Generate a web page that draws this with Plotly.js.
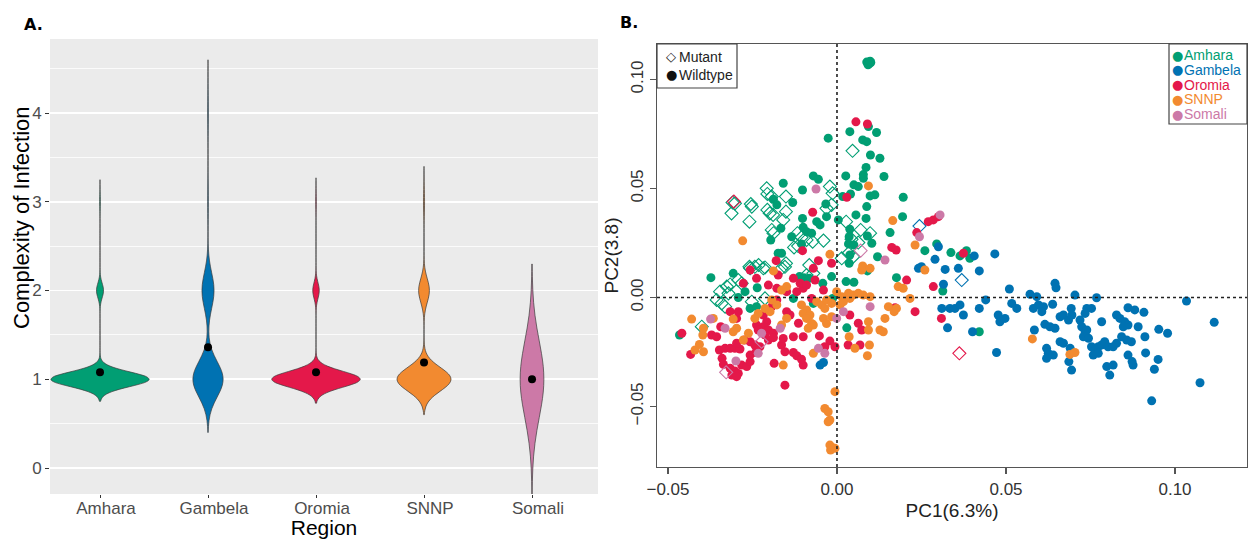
<!DOCTYPE html>
<html><head><meta charset="utf-8">
<script src="https://cdn.plot.ly/plotly-3.0.1.min.js"></script>
<style>html,body{margin:0;padding:0;background:#fff;} #chart{width:1249px;height:539px;}</style>
</head><body><div id="chart"></div>
<script>
// ================= DATA =================
// Panel A: complexity of infection (COI) by region
const regions = ["Amhara", "Gambela", "Oromia", "SNNP", "Somali"];
const coiLevels = [1, 2, 3, 4];
const coiCountsAmhara  = [140, 10, 1, 0];
const coiCountsGambela = [45, 18, 1, 1];
const coiCountsOromia  = [150, 11, 1, 0];
const coiCountsSNNP    = [100, 20, 2, 0];
const coiCountsSomali  = [37, 0, 0, 0];
const coiMeans = [1.08, 1.36, 1.08, 1.19, 1.00];

// Panel B: PCA coordinates (PC1, PC2)
const amharaWtX = [0.0088,0.0095,0.0100,0.0092,0.0098,0.0038,0.0093,0.0117,-0.0026,0.0076,
0.0088,0.0099,0.0127,0.0086,0.0139,0.0026,0.0078,0.0078,0.0050,0.0063,
-0.0070,-0.0055,-0.0159,-0.0102,0.0040,0.0098,0.0112,0.0196,0.0017,-0.0188,
-0.0131,-0.0033,0.0088,-0.0178,-0.0102,-0.0031,0.0004,0.0056,0.0086,0.0194,
-0.0060,-0.0050,-0.0100,-0.0090,-0.0166,-0.0075,0.0038,0.0036,0.0090,0.0157,
-0.0134,-0.0196,-0.0105,0.0034,0.0050,0.0103,-0.0174,-0.0164,0.0038,0.0120,
0.0036,0.0260,0.0295,-0.0373,-0.0307,-0.0272,-0.0236,-0.0292,-0.0257,-0.0238,
-0.0129,-0.0111,-0.0098,-0.0082,-0.0016,-0.0042,0.0027,0.0050,0.0090,-0.0013,
0.0029,0.0176,0.0313,-0.0466,-0.0070,0.0337,0.0364,0.0383,0.0393,0.0421];
const amharaWtY = [0.1080,0.1072,0.1078,0.1068,0.1084,0.0761,0.0784,0.0757,0.0731,0.0723,
0.0715,0.0654,0.0639,0.0597,0.0555,0.0558,0.0564,0.0547,0.0517,0.0509,
0.0558,0.0542,0.0524,0.0493,0.0475,0.0466,0.0471,0.0460,0.0463,0.0451,
0.0436,0.0429,0.0417,0.0425,0.0363,0.0371,0.0356,0.0379,0.0363,0.0371,
0.0348,0.0333,0.0322,0.0302,0.0318,0.0295,0.0313,0.0279,0.0282,0.0298,
0.0279,0.0264,0.0246,0.0246,0.0241,0.0249,0.0203,0.0203,0.0195,0.0187,
0.0157,0.0215,0.0246,0.0091,0.0111,0.0027,0.0045,0.0000,-0.0050,-0.0042,
-0.0004,0.0096,0.0091,0.0088,0.0096,0.0065,0.0073,0.0070,0.0122,-0.0004,
-0.0139,0.0091,0.0030,-0.0172,-0.0027,0.0206,0.0191,0.0215,0.0180,-0.0157];

const amharaMutX = [0.0046,-0.0208,-0.0206,-0.0193,-0.0151,-0.0309,-0.0302,-0.0312,-0.0255,-0.0252,
-0.0206,-0.0199,-0.0189,-0.0151,-0.0159,-0.0259,-0.0021,-0.0013,-0.0016,-0.0031,
0.0027,-0.0193,-0.0188,-0.0117,-0.0105,-0.0090,-0.0072,-0.0040,-0.0127,-0.0115,
0.0070,0.0098,0.0043,0.0063,0.0034,0.0048,0.0014,-0.0259,-0.0232,-0.0213,
-0.0151,-0.0082,-0.0356,-0.0341,-0.0331,-0.0326,-0.0316,-0.0321,-0.0292,-0.0282,
-0.0346,-0.0400,-0.0257,-0.0243,-0.0218,-0.0164,-0.0154,-0.0213,-0.0090,-0.0070,
-0.0252];
const amharaMutY = [0.0673,0.0501,0.0475,0.0463,0.0463,0.0436,0.0432,0.0386,0.0429,0.0417,
0.0402,0.0386,0.0379,0.0394,0.0356,0.0348,0.0509,0.0478,0.0425,0.0409,
0.0348,0.0310,0.0295,0.0295,0.0276,0.0264,0.0256,0.0261,0.0230,0.0236,
0.0310,0.0295,0.0267,0.0252,0.0203,0.0187,0.0180,0.0141,0.0149,0.0138,
0.0157,0.0149,-0.0011,-0.0027,-0.0042,0.0050,0.0060,0.0019,0.0080,0.0065,
0.0027,-0.0134,0.0134,0.0141,0.0134,0.0134,0.0141,-0.0004,0.0103,0.0111,
-0.0019];

const gambelaWtX = [0.0300,0.0290,0.0250,0.0320,-0.0050,-0.0040,0.0241,0.0315,0.0310,0.0327,
0.0359,0.0421,0.0334,0.0349,0.0364,0.0374,0.0401,0.0421,0.0440,0.0472,
0.0477,0.0482,0.0497,0.0510,0.0517,0.0532,0.0571,0.0591,0.0581,0.0596,
0.0611,0.0606,0.0584,0.0645,0.0648,0.0638,0.0615,0.0630,0.0645,0.0660,
0.0670,0.0660,0.0670,0.0620,0.0625,0.0620,0.0640,0.0690,0.0686,0.0694,
0.0685,0.0693,0.0695,0.0704,0.0719,0.0724,0.0734,0.0729,0.0744,0.0739,
0.0739,0.0753,0.0734,0.0768,0.0753,0.0763,0.0773,0.0783,0.0758,0.0773,
0.0792,0.0802,0.0817,0.0827,0.0798,0.0807,0.0817,0.0783,0.0827,0.0837,
0.0851,0.0861,0.0847,0.0861,0.0881,0.0908,0.0891,0.0842,0.0857,0.0871,
0.0861,0.0873,0.0876,0.0911,0.0913,0.0939,0.0950,0.0952,0.0978,0.0931,
0.1034,0.1074,0.1116,0.0467,0.0406];
const gambelaWtY = [0.0233,0.0175,0.0141,0.0129,-0.0310,-0.0298,0.0134,0.0061,-0.0050,-0.0139,
0.0134,0.0122,-0.0050,-0.0050,-0.0034,-0.0080,-0.0157,-0.0050,-0.0011,-0.0252,
-0.0080,-0.0111,-0.0096,0.0039,-0.0027,-0.0050,0.0015,0.0004,-0.0050,-0.0034,
-0.0042,-0.0065,-0.0149,0.0065,0.0045,-0.0031,-0.0123,-0.0134,-0.0141,-0.0088,
-0.0080,-0.0203,-0.0210,-0.0233,-0.0256,-0.0279,-0.0264,-0.0233,-0.0294,-0.0333,
-0.0103,-0.0050,-0.0080,0.0011,-0.0103,-0.0134,-0.0157,-0.0180,-0.0187,-0.0149,
-0.0050,-0.0050,-0.0073,-0.0001,-0.0226,-0.0241,-0.0226,-0.0218,-0.0264,-0.0256,
-0.0203,-0.0226,-0.0226,-0.0210,-0.0317,-0.0356,-0.0310,-0.0111,-0.0080,-0.0096,
-0.0111,-0.0126,-0.0134,-0.0047,-0.0057,-0.0068,-0.0134,-0.0180,-0.0195,-0.0203,
-0.0264,-0.0294,-0.0310,-0.0180,-0.0254,-0.0329,-0.0284,-0.0146,-0.0164,-0.0474,
-0.0016,-0.0391,-0.0114,0.0200,0.0191];
const gambelaMutX = [0.0244, 0.0369];
const gambelaMutY = [0.0328, 0.0080];

const oromiaWtX = [0.0056,0.0090,0.0029,-0.0072,-0.0102,0.0162,0.0175,-0.0180,-0.0055,-0.0016,
0.0270,0.0285,0.0300,0.0236,
-0.0459,-0.0433,-0.0371,-0.0356,-0.0344,-0.0348,-0.0331,-0.0316,-0.0302,-0.0287,
-0.0297,-0.0274,-0.0257,-0.0340,-0.0336,-0.0316,-0.0302,-0.0292,-0.0311,-0.0297,
-0.0282,-0.0267,-0.0257,-0.0257,-0.0240,-0.0243,-0.0228,-0.0218,-0.0208,-0.0218,
-0.0203,-0.0188,-0.0213,-0.0203,-0.0188,-0.0238,-0.0233,-0.0297,-0.0292,-0.0316,
-0.0186,-0.0164,-0.0154,-0.0159,-0.0154,-0.0129,-0.0119,-0.0100,-0.0105,-0.0129,
-0.0100,-0.0114,-0.0052,-0.0021,-0.0006,-0.0036,-0.0149,-0.0139,-0.0203,-0.0178,
-0.0149,-0.0119,-0.0100,-0.0129,-0.0109,-0.0090,-0.0065,-0.0040,-0.0075,-0.0277,
-0.0238,-0.0178,-0.0193,-0.0257,-0.0174,-0.0070,0.0063,0.0073,0.0068,0.0038,
0.0172,0.0206,0.0231,0.0285,0.0309,0.0033,0.0374];
const oromiaWtY = [0.0806,0.0796,0.0460,0.0391,0.0215,0.0230,0.0218,0.0169,0.0169,0.0157,
0.0348,0.0356,0.0371,0.0298,
-0.0164,-0.0261,-0.0172,-0.0180,-0.0134,-0.0241,-0.0233,-0.0233,-0.0233,-0.0236,
-0.0210,-0.0195,-0.0203,-0.0279,-0.0307,-0.0325,-0.0337,-0.0348,-0.0356,-0.0363,
-0.0310,-0.0317,-0.0294,-0.0264,-0.0252,-0.0218,-0.0226,-0.0080,-0.0111,-0.0134,
-0.0149,-0.0164,-0.0172,-0.0195,-0.0184,-0.0126,-0.0149,-0.0096,-0.0065,-0.0065,
-0.0302,-0.0218,-0.0249,-0.0188,-0.0402,-0.0252,-0.0267,-0.0310,-0.0283,-0.0180,
-0.0180,-0.0118,-0.0176,-0.0200,-0.0226,-0.0226,-0.0065,-0.0080,0.0057,0.0042,
0.0027,0.0027,0.0042,0.0088,0.0065,0.0057,0.0080,0.0034,-0.0004,0.0065,
0.0088,-0.0011,-0.0042,0.0126,0.0103,0.0134,-0.0118,-0.0149,-0.0218,-0.0080,
-0.0047,0.0080,-0.0065,0.0050,-0.0096,-0.0218,0.0203];
const oromiaMutX = [-0.0305, 0.0362];
const oromiaMutY = [0.0440, -0.0256];

const snnpWtX = [0.0093,0.0165,-0.0279,-0.0021,0.0231,0.0076,
-0.0430,-0.0420,-0.0407,-0.0397,-0.0395,-0.0395,-0.0366,-0.0307,-0.0297,-0.0262,
-0.0243,-0.0233,-0.0277,-0.0213,-0.0198,-0.0164,-0.0149,-0.0164,-0.0149,-0.0188,
-0.0105,-0.0090,-0.0100,-0.0080,-0.0090,-0.0075,-0.0085,-0.0070,-0.0060,-0.0045,
-0.0031,-0.0036,-0.0016,-0.0040,-0.0016,-0.0031,0.0009,0.0019,0.0038,0.0048,
0.0063,0.0078,0.0098,0.0034,0.0014,-0.0001,0.0036,0.0093,0.0093,0.0053,
0.0096,0.0090,0.0142,0.0152,0.0127,0.0137,0.0169,0.0176,0.0181,0.0196,
0.0216,0.0260,0.0098,0.0073,-0.0159,-0.0070,-0.0006,-0.0036,-0.0026,-0.0021,
-0.0026,-0.0021,-0.0013,-0.0019,-0.0006,-0.0193,-0.0178,-0.0307,0.0578,0.0689,
0.0704];
const snnpWtY = [0.0512,0.0353,0.0260,0.0198,0.0241,0.0145,
-0.0099,-0.0241,-0.0215,-0.0172,-0.0141,-0.0249,-0.0096,-0.0099,-0.0141,-0.0164,
-0.0096,-0.0073,-0.0195,-0.0050,-0.0065,-0.0126,-0.0096,0.0034,0.0050,0.0122,
-0.0034,-0.0057,-0.0073,-0.0080,-0.0096,-0.0119,-0.0141,-0.0126,-0.0019,-0.0034,
-0.0011,-0.0050,-0.0027,-0.0096,-0.0088,-0.0119,-0.0034,-0.0019,-0.0004,0.0011,
0.0019,0.0011,0.0004,0.0019,0.0004,0.0027,-0.0180,-0.0111,-0.0149,-0.0233,
-0.0218,-0.0267,-0.0096,-0.0042,-0.0149,-0.0157,-0.0065,-0.0050,0.0050,0.0042,
-0.0004,0.0126,0.0134,0.0126,-0.0310,-0.0256,-0.0432,-0.0509,-0.0524,-0.0562,
-0.0570,-0.0677,-0.0689,-0.0700,-0.0692,-0.0011,-0.0034,-0.0157,-0.0190,-0.0261,
-0.0252];

const somaliWtX = [-0.0062,0.0142,0.0244,0.0305,-0.0374,-0.0331,-0.0299,-0.0168,-0.0233,-0.0223,
-0.0055,-0.0036,0.0019,0.0098,-0.0001];
const somaliWtY = [0.0498,0.0172,0.0279,0.0379,-0.0099,-0.0141,-0.0291,-0.0141,-0.0256,-0.0164,
-0.0233,-0.0256,-0.0065,-0.0042,-0.0096];
const somaliMutX = [0.0070, -0.0328, -0.0223];
const somaliMutY = [0.0215, -0.0343, -0.0203];

const genotypeLabels = ["Mutant", "Wildtype"];

// ================= STYLE =================
const regionColors = ["#019E73", "#0072B2", "#E4184A", "#F28A30", "#CC79A7"];
const FONT = "Liberation Sans, Arial, Helvetica, sans-serif";
const W = 1249, H = 539;
const fx = p => p / W;          // pixel -> paper x
const fy = p => 1 - p / H;      // pixel -> paper y

// ================= PANEL A: violins =================
const coiCounts = [coiCountsAmhara, coiCountsGambela, coiCountsOromia, coiCountsSNNP, coiCountsSomali];
const bandwidths = [0.083, 0.2, 0.09, 0.133, 0.433];
const violinWidths = [0.91, 0.28, 0.82, 0.5, 0.22];
function expand(counts) {
  const out = [];
  counts.forEach((c, i) => { for (let k = 0; k < c; k++) out.push(coiLevels[i]); });
  return out;
}
const traces = [];
regions.forEach((r, i) => {
  const s = expand(coiCounts[i]);
  const lo = Math.min(...s) - 3 * bandwidths[i];
  const hi = Math.max(...s) + 3 * bandwidths[i];
  traces.push({
    type: "violin", x0: r, y: s, name: r, xaxis: "x", yaxis: "y",
    fillcolor: regionColors[i], line: { color: "#3a3a3a", width: 0.7 }, opacity: 1,
    points: false, box: { visible: false }, meanline: { visible: false },
    bandwidth: bandwidths[i], spanmode: "manual", span: [lo, hi],
    scalemode: "width", width: violinWidths[i], side: "both",
    showlegend: false, hoverinfo: "skip"
  });
});
traces.push({
  type: "scatter", mode: "markers", x: regions, y: coiMeans, xaxis: "x", yaxis: "y",
  marker: { color: "#000", size: 8 }, showlegend: false, hoverinfo: "skip"
});

// ================= PANEL B: PCA scatter =================
const pcSeries = [
  { region: 0, mutant: true,  x: amharaMutX,  y: amharaMutY },
  { region: 0, mutant: false, x: amharaWtX,   y: amharaWtY },
  { region: 1, mutant: false, x: gambelaWtX,  y: gambelaWtY },
  { region: 1, mutant: true,  x: gambelaMutX, y: gambelaMutY },
  { region: 2, mutant: false, x: oromiaWtX,   y: oromiaWtY },
  { region: 2, mutant: true,  x: oromiaMutX,  y: oromiaMutY },
  { region: 3, mutant: false, x: snnpWtX,     y: snnpWtY },
  { region: 4, mutant: false, x: somaliWtX,   y: somaliWtY },
  { region: 4, mutant: true,  x: somaliMutX,  y: somaliMutY }
];
pcSeries.forEach(s => {
  const c = regionColors[s.region];
  traces.push({
    type: "scatter", mode: "markers", x: s.x, y: s.y, xaxis: "x2", yaxis: "y2",
    name: regions[s.region] + " " + (s.mutant ? genotypeLabels[0] : genotypeLabels[1]),
    marker: s.mutant
      ? { symbol: "diamond-open", size: 10, color: c, line: { color: c, width: 1.1 } }
      : { symbol: "circle", size: 9, color: c, line: { width: 0 } },
    showlegend: false, hoverinfo: "skip"
  });
});

// ================= LAYOUT =================
const tickGray = "#4D4D4D";
const shapes = [
  // Panel A grey panel background
  { type: "rect", xref: "x domain", yref: "y domain", x0: 0, x1: 1, y0: 0, y1: 1,
    fillcolor: "#EBEBEB", line: { width: 0 }, layer: "below" },
  // Panel B reference lines
  { type: "line", xref: "x2", yref: "y2 domain", x0: 0, x1: 0, y0: 0, y1: 1,
    line: { color: "#222", width: 1.6, dash: "3px,3px" }, layer: "above" },
  { type: "line", xref: "x2 domain", yref: "y2", x0: 0, x1: 1, y0: 0, y1: 0,
    line: { color: "#222", width: 1.6, dash: "3px,3px" }, layer: "above" },
  // Legend boxes
  { type: "rect", xref: "paper", yref: "paper", x0: fx(657), x1: fx(737), y0: fy(88), y1: fy(44),
    fillcolor: "#fff", line: { color: "#444", width: 1.2 }, layer: "above" },
  { type: "rect", xref: "paper", yref: "paper", x0: fx(1169), x1: fx(1247), y0: fy(124), y1: fy(44),
    fillcolor: "#fff", line: { color: "#444", width: 1.2 }, layer: "above" }
];

const annotations = [
  { text: "<b>A.</b>", x: fx(22), y: fy(24), xref: "paper", yref: "paper", xanchor: "left", yanchor: "middle",
    showarrow: false, font: { family: "DejaVu Sans, sans-serif", size: 16, color: "#000" } },
  { text: "<b>B.</b>", x: fx(618), y: fy(22), xref: "paper", yref: "paper", xanchor: "left", yanchor: "middle",
    showarrow: false, font: { family: "DejaVu Sans, sans-serif", size: 16, color: "#000" } },
  { text: "Complexity of Infection", x: fx(22), y: fy(218), xref: "paper", yref: "paper",
    xanchor: "center", yanchor: "middle", textangle: -90, showarrow: false,
    font: { family: FONT, size: 22, color: "#000" } }
];
// genotype legend (top-left)
const genoSymbols = ["\u25C7", "\u25CF"];
genotypeLabels.forEach((g, i) => {
  const yy = 57 + i * 18;
  annotations.push({ text: genoSymbols[i], x: fx(671), y: fy(yy), xref: "paper", yref: "paper",
    xanchor: "center", yanchor: "middle", showarrow: false,
    font: { family: "DejaVu Sans, sans-serif", size: 13, color: "#111" } });
  annotations.push({ text: g, x: fx(677), y: fy(yy), xref: "paper", yref: "paper",
    xanchor: "left", yanchor: "middle", showarrow: false,
    font: { family: FONT, size: 14, color: "#222" } });
});
// region legend (top-right)
regions.forEach((r, i) => {
  const yy = 55 + i * 14.8;
  annotations.push({ text: "\u25CF", x: fx(1177), y: fy(yy), xref: "paper", yref: "paper",
    xanchor: "center", yanchor: "middle", showarrow: false,
    font: { family: "DejaVu Sans, sans-serif", size: 13, color: regionColors[i] } });
  annotations.push({ text: r, x: fx(1182), y: fy(yy), xref: "paper", yref: "paper",
    xanchor: "left", yanchor: "middle", showarrow: false,
    font: { family: FONT, size: 14, color: regionColors[i] } });
});

const layout = {
  width: W, height: H,
  margin: { l: 0, r: 0, t: 0, b: 0, pad: 0 },
  paper_bgcolor: "#fff", plot_bgcolor: "rgba(0,0,0,0)",
  font: { family: FONT, color: "#222" },
  showlegend: false,
  violinmode: "overlay",
  xaxis: {
    domain: [fx(50), fx(598)], anchor: "y", type: "category",
    categoryorder: "array", categoryarray: regions, range: [-0.463, 4.611],
    showgrid: false, zeroline: false, showline: false,
    ticks: "outside", ticklen: 3, tickwidth: 1, tickcolor: "#333",
    ticklabelshift: 6, ticklabelstandoff: -4,
    tickfont: { family: FONT, size: 17, color: tickGray },
    title: { text: "Region", font: { family: FONT, size: 21, color: "#000" }, standoff: 9 },
    automargin: false, fixedrange: true
  },
  yaxis: {
    domain: [fy(494), fy(39)], anchor: "x", range: [-0.293, 4.834],
    tickvals: [0, 1, 2, 3, 4],
    showgrid: true, gridcolor: "#FFFFFF", gridwidth: 1.6,
    minor: { dtick: 0.5, tick0: 0, showgrid: true, gridcolor: "#FFFFFF", gridwidth: 0.8, ticks: "" },
    zeroline: false, showline: false,
    ticks: "outside", ticklen: 4, tickwidth: 1, tickcolor: "#333",
    tickfont: { family: FONT, size: 17, color: tickGray },
    automargin: false, fixedrange: true
  },
  xaxis2: {
    domain: [fx(657), fx(1247)], anchor: "y2", range: [-0.05325, 0.1213],
    tickvals: [-0.05, 0, 0.05, 0.10], tickformat: ".2f",
    showgrid: false, zeroline: false,
    showline: true, mirror: true, linecolor: "#555", linewidth: 1.3,
    ticks: "outside", ticklen: 6, tickwidth: 1.2, tickcolor: "#555",
    tickfont: { family: FONT, size: 17, color: "#333" },
    title: { text: "PC1(6.3%)", font: { family: FONT, size: 19, color: "#222" }, standoff: 6 },
    automargin: false, fixedrange: true
  },
  yaxis2: {
    domain: [fy(467), fy(44)], anchor: "x2", range: [-0.07775, 0.1163],
    tickvals: [-0.05, 0, 0.05, 0.10], tickformat: ".2f", tickangle: -90,
    showgrid: false, zeroline: false,
    showline: true, mirror: true, linecolor: "#555", linewidth: 1.3,
    ticks: "outside", ticklen: 6, tickwidth: 1.2, tickcolor: "#555",
    tickfont: { family: FONT, size: 17, color: "#333" },
    title: { text: "PC2(3.8)", font: { family: FONT, size: 19, color: "#222" }, standoff: 4 },
    automargin: false, fixedrange: true
  },
  shapes: shapes,
  annotations: annotations
};

Plotly.newPlot("chart", traces, layout, { staticPlot: true, displayModeBar: false });
</script>
</body></html>
